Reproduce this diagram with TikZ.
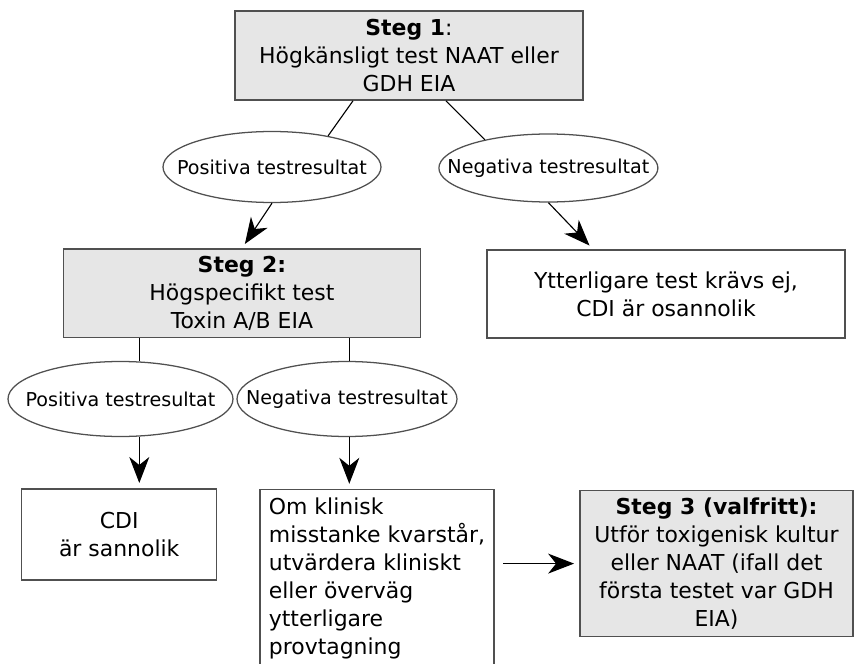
\documentclass[tikz,border=0pt]{standalone}
\usepackage{fontspec}
\setmainfont{DejaVu Sans}
\usepackage{tikz}
\usetikzlibrary{shapes.geometric, arrows.meta}
\definecolor{stepgray}{RGB}{230,230,230}
\definecolor{edgegray}{RGB}{80,80,80}

\begin{document}
\begin{tikzpicture}[
  arr/.style={-{Stealth[length=0.65cm, width=0.5cm, inset=0.2cm]}, line width=0.8pt, shorten >=0.13cm},
  conn/.style={line width=0.8pt},
  nodebox/.style={rectangle, draw=edgegray, line width=1pt, align=center, font=\fontsize{15.6}{20}\selectfont},
  stepbox/.style={nodebox, fill=stepgray},
  resultoval/.style={ellipse, draw=edgegray, line width=0.9pt, fill=white, inner xsep=-1cm, inner ysep=-0.4cm, font=\fontsize{13.6}{16}\selectfont}
]
\useasboundingbox (0,0) rectangle (21.375,-16.6);

\node[stepbox, minimum width=8.7cm, minimum height=2.225cm] (steg1) at (10.225,-1.39) {{\bfseries Steg 1}:\\Högkänsligt test NAAT eller\\GDH EIA};
\node[resultoval, minimum width=5.45cm, minimum height=1.775cm] (pos1) at (6.8,-4.175) {Positiva testresultat};
\node[resultoval, minimum width=5.475cm, minimum height=1.7cm] (neg1) at (13.71,-4.2) {Negativa testresultat};

\node[stepbox, minimum width=8.935cm, minimum height=2.2175cm] (steg2) at (6.05,-7.334) {\bfseries Steg 2:\\Högspecifikt test\\Toxin A/B EIA};
\node[nodebox, minimum width=8.95cm, minimum height=2.2cm] (ytter) at (16.65,-7.35) {Ytterligare test krävs ej,\\CDI är osannolik};

\node[resultoval, minimum width=5.625cm, minimum height=1.875cm] (pos2) at (3.0125,-9.975) {Positiva testresultat};
\node[resultoval, minimum width=5.5cm, minimum height=1.875cm] (neg2) at (8.675,-9.975) {Negativa testresultat};

\node[nodebox, minimum width=4.875cm, minimum height=2.275cm] (cdi) at (2.98,-13.36) {CDI\\är sannolik};
\node[nodebox, anchor=north west, align=left, minimum width=5.85cm, inner ysep=0.2cm] (om) at (6.4825,-12.225) {Om klinisk\\misstanke kvarstår,\\utvärdera kliniskt\\eller överväg\\ytterligare\\provtagning};
\node[stepbox, minimum width=6.825cm, minimum height=3.65cm] (steg3) at (17.9125,-14.09) {{\bfseries Steg 3 (valfritt):}\\Utför toxigenisk kultur\\eller NAAT (ifall det\\första testet var GDH\\EIA)};

\coordinate (lx) at (3.4825,0);
\coordinate (rx) at (8.7325,0);

\draw[conn] ([xshift=-1.4cm]steg1.south) -- (pos1.29);
\draw[arr] (pos1.south) -- (steg2.north);
\draw[conn] ([xshift=0.925cm]steg1.south) -- (neg1.156);
\draw[arr] (neg1.south) -- ([xshift=-1.8225cm]ytter.north);

\draw[conn] (steg2.south -| lx) -- (pos2.north -| lx);
\draw[conn] (steg2.south -| rx) -- (neg2.north -| rx);
\draw[arr] (pos2.south -| lx) -- (cdi.north -| lx);
\draw[arr] (neg2.south -| rx) -- (om.north -| rx);
\draw[arr, shorten <=0.21cm] (om.east |- steg3.west) -- (steg3.west);
\end{tikzpicture}
\end{document}
